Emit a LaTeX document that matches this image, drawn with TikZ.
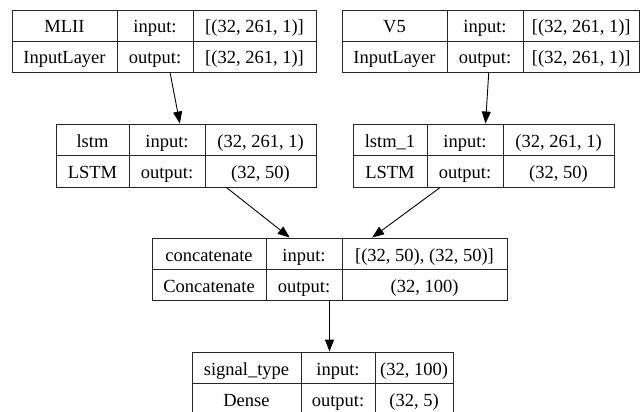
\documentclass[tikz,border=0pt]{standalone}
\usepackage{fontspec}
\setmainfont{Liberation Serif}
\usetikzlibrary{arrows.meta}
\tikzset{
  box/.style={draw=black!85, line width=0.9pt, rectangle, inner sep=0pt},
  cell/.style={inner sep=0pt, text height=15pt, text depth=0pt, font=\fontsize{18.5}{20}\selectfont},
  divider/.style={draw=black!85, line width=0.9pt},
  conn/.style={draw=black, line width=0.9pt, -{Triangle[length=12pt,width=9pt]}},
}
\newcommand{\layerbox}[9]{%
  \pgfmathsetmacro{\cL}{#2}\pgfmathsetmacro{\cA}{#3}\pgfmathsetmacro{\cB}{#4}%
  \pgfmathsetmacro{\cR}{#5}\pgfmathsetmacro{\cT}{#6}\pgfmathsetmacro{\cBt}{#7}%
  \pgfmathsetmacro{\cM}{(\cT+\cBt)/2}%
  \node[box, minimum width={(\cR-\cL)*1pt}, minimum height={(\cBt-\cT)*1pt}]
     (#1) at ({(\cL+\cR)/2}, {-(\cT+\cBt)/2}) {};
  \draw[divider] (#1.west) -- (#1.east);
  \draw[divider] (\cA,-\cT) -- (\cA,-\cBt);
  \draw[divider] (\cB,-\cT) -- (\cB,-\cBt);
  \node[cell] (#1-name) at ({(\cL+\cA)/2}, {-(\cT+\cM)/2}) {#8};
  \node[cell] (#1-class) at ({(\cL+\cA)/2}, {-(\cM+\cBt)/2}) {#9};
  \node[cell] (#1-in) at ({(\cA+\cB)/2}, {-(\cT+\cM)/2}) {input:};
  \node[cell] (#1-out) at ({(\cA+\cB)/2}, {-(\cM+\cBt)/2}) {output:};
}
\begin{document}
\begin{tikzpicture}[x=1pt,y=1pt]
\useasboundingbox (0,0) rectangle (641,-412);

\layerbox{mlii}{12}{117}{193}{316}{10}{72}{MLII}{InputLayer}
\node[cell] (mlii-inshape) at ({(193+316)/2},{-(10+41)/2}) {[(32, 261, 1)]};
\node[cell] (mlii-outshape) at ({(193+316)/2},{-(41+72)/2}) {[(32, 261, 1)]};

\layerbox{vfive}{342}{447}{523}{639.5}{10}{72}{V5}{InputLayer}
\node[cell] (vfive-inshape) at ({(523+639.5)/2},{-(10+41)/2}) {[(32, 261, 1)]};
\node[cell] (vfive-outshape) at ({(523+639.5)/2},{-(41+72)/2}) {[(32, 261, 1)]};

\layerbox{lstm}{56}{129}{205}{316}{124}{187}{lstm}{LSTM}
\node[cell] (lstm-inshape) at ({(205+316)/2},{-(124+155.5)/2}) {(32, 261, 1)};
\node[cell] (lstm-outshape) at ({(205+316)/2},{-(155.5+187)/2}) {(32, 50)};

\layerbox{lstmone}{353}{427}{503}{614}{124}{187}{lstm\_1}{LSTM}
\node[cell] (lstmone-inshape) at ({(503+614)/2},{-(124+155.5)/2}) {(32, 261, 1)};
\node[cell] (lstmone-outshape) at ({(503+614)/2},{-(155.5+187)/2}) {(32, 50)};

\layerbox{concat}{152}{266}{342}{507}{238}{300}{concatenate}{Concatenate}
\node[cell] (concat-inshape) at ({(342+507)/2},{-(238+269)/2}) {[(32, 50), (32, 50)]};
\node[cell] (concat-outshape) at ({(342+507)/2},{-(269+300)/2}) {(32, 100)};

\layerbox{dense}{192}{301}{375}{453}{352}{414}{signal\_type}{Dense}
\node[cell] (dense-inshape) at ({(375+453)/2},{-(352+383)/2}) {(32, 100)};
\node[cell] (dense-outshape) at ({(375+453)/2},{-(383+414)/2}) {(32, 5)};

\draw[conn] (mlii) -- (lstm);
\draw[conn] (vfive) -- (lstmone);
\draw[conn] (lstm) -- (concat);
\draw[conn] (lstmone) -- (concat);
\draw[conn] (concat.south) -- (concat.south |- dense.north);
\end{tikzpicture}
\end{document}
